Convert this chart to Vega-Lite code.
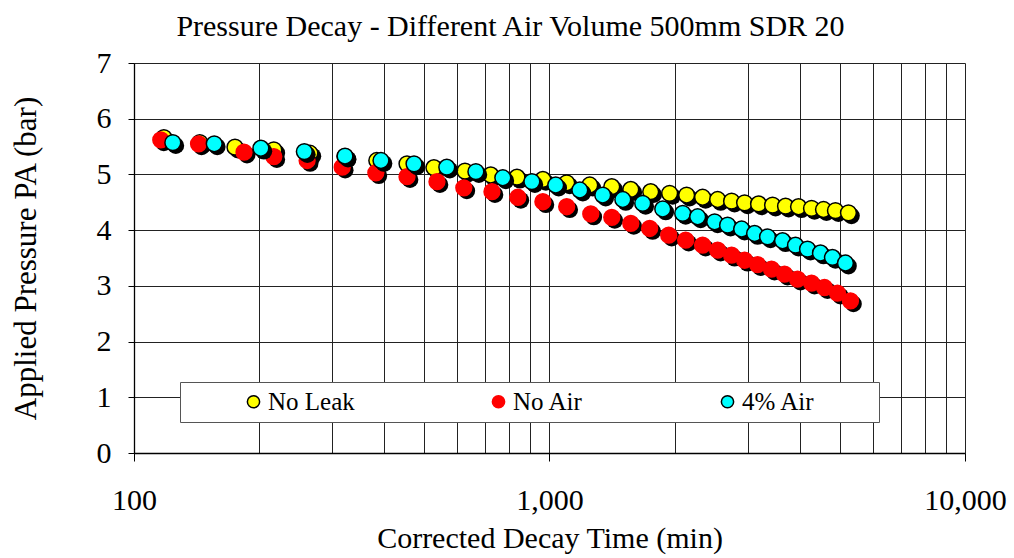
{
  "$schema": "https://vega.github.io/schema/vega-lite/v6.json",
  "width": 831,
  "height": 390,
  "autosize": "none",
  "padding": {"left": 134, "top": 63, "right": 49, "bottom": 105},
  "background": "white",
  "title": {"text": "Pressure Decay - Different Air Volume 500mm SDR 20", "font": "Liberation Serif", "fontSize": 30, "fontWeight": "normal", "anchor": "middle", "dx": -39, "offset": 6, "color": "black"},
  "config": {"view": {"stroke": null}, "font": "Liberation Serif",
    "legend": {"orient": "none", "legendX": 46, "legendY": 319, "direction": "horizontal", "columns": 3,
      "titleOrient": "left", "titleFontSize": 10, "titlePadding": 54,
      "strokeColor": "#555", "fillColor": "white", "padding": 7,
      "labelFont": "Liberation Serif", "labelFontSize": 25, "labelColor": "black", "labelOffset": 2, "labelLimit": 400,
      "symbolType": "circle", "symbolSize": 150, "symbolStrokeWidth": 1.5, "columnPadding": 131}},
  "data": {"values": [
    {"series": "No Leak", "time": 118, "pressure": 5.66},
    {"series": "No Leak", "time": 144, "pressure": 5.57},
    {"series": "No Leak", "time": 175, "pressure": 5.49},
    {"series": "No Leak", "time": 217, "pressure": 5.44},
    {"series": "No Leak", "time": 265, "pressure": 5.38},
    {"series": "No Leak", "time": 322, "pressure": 5.32},
    {"series": "No Leak", "time": 384, "pressure": 5.25},
    {"series": "No Leak", "time": 454, "pressure": 5.19},
    {"series": "No Leak", "time": 527, "pressure": 5.12},
    {"series": "No Leak", "time": 626, "pressure": 5.06},
    {"series": "No Leak", "time": 722, "pressure": 4.99},
    {"series": "No Leak", "time": 835, "pressure": 4.95},
    {"series": "No Leak", "time": 964, "pressure": 4.91},
    {"series": "No Leak", "time": 1100, "pressure": 4.85},
    {"series": "No Leak", "time": 1250, "pressure": 4.81},
    {"series": "No Leak", "time": 1412, "pressure": 4.78},
    {"series": "No Leak", "time": 1569, "pressure": 4.73},
    {"series": "No Leak", "time": 1752, "pressure": 4.69},
    {"series": "No Leak", "time": 1946, "pressure": 4.66},
    {"series": "No Leak", "time": 2138, "pressure": 4.63},
    {"series": "No Leak", "time": 2336, "pressure": 4.59},
    {"series": "No Leak", "time": 2539, "pressure": 4.55},
    {"series": "No Leak", "time": 2743, "pressure": 4.52},
    {"series": "No Leak", "time": 2948, "pressure": 4.49},
    {"series": "No Leak", "time": 3185, "pressure": 4.47},
    {"series": "No Leak", "time": 3442, "pressure": 4.45},
    {"series": "No Leak", "time": 3699, "pressure": 4.43},
    {"series": "No Leak", "time": 3975, "pressure": 4.42},
    {"series": "No Leak", "time": 4272, "pressure": 4.39},
    {"series": "No Leak", "time": 4565, "pressure": 4.37},
    {"series": "No Leak", "time": 4877, "pressure": 4.35},
    {"series": "No Leak", "time": 5242, "pressure": 4.31},
    {"series": "No Air", "time": 116, "pressure": 5.62},
    {"series": "No Air", "time": 143, "pressure": 5.55},
    {"series": "No Air", "time": 184, "pressure": 5.4},
    {"series": "No Air", "time": 217, "pressure": 5.32},
    {"series": "No Air", "time": 261, "pressure": 5.25},
    {"series": "No Air", "time": 317, "pressure": 5.13},
    {"series": "No Air", "time": 382, "pressure": 5.03},
    {"series": "No Air", "time": 454, "pressure": 4.96},
    {"series": "No Air", "time": 536, "pressure": 4.87},
    {"series": "No Air", "time": 622, "pressure": 4.76},
    {"series": "No Air", "time": 727, "pressure": 4.69},
    {"series": "No Air", "time": 839, "pressure": 4.59},
    {"series": "No Air", "time": 964, "pressure": 4.51},
    {"series": "No Air", "time": 1100, "pressure": 4.42},
    {"series": "No Air", "time": 1257, "pressure": 4.29},
    {"series": "No Air", "time": 1412, "pressure": 4.23},
    {"series": "No Air", "time": 1569, "pressure": 4.12},
    {"series": "No Air", "time": 1742, "pressure": 4.03},
    {"series": "No Air", "time": 1936, "pressure": 3.91},
    {"series": "No Air", "time": 2127, "pressure": 3.82},
    {"series": "No Air", "time": 2336, "pressure": 3.73},
    {"series": "No Air", "time": 2539, "pressure": 3.64},
    {"series": "No Air", "time": 2743, "pressure": 3.55},
    {"series": "No Air", "time": 2948, "pressure": 3.46},
    {"series": "No Air", "time": 3168, "pressure": 3.38},
    {"series": "No Air", "time": 3422, "pressure": 3.3},
    {"series": "No Air", "time": 3678, "pressure": 3.21},
    {"series": "No Air", "time": 3953, "pressure": 3.12},
    {"series": "No Air", "time": 4272, "pressure": 3.05},
    {"series": "No Air", "time": 4590, "pressure": 2.97},
    {"series": "No Air", "time": 4932, "pressure": 2.87},
    {"series": "No Air", "time": 5300, "pressure": 2.73},
    {"series": "4% Air", "time": 124, "pressure": 5.57},
    {"series": "4% Air", "time": 156, "pressure": 5.55},
    {"series": "4% Air", "time": 202, "pressure": 5.47},
    {"series": "4% Air", "time": 257, "pressure": 5.41},
    {"series": "4% Air", "time": 322, "pressure": 5.33},
    {"series": "4% Air", "time": 393, "pressure": 5.25},
    {"series": "4% Air", "time": 472, "pressure": 5.19},
    {"series": "4% Air", "time": 566, "pressure": 5.13},
    {"series": "4% Air", "time": 665, "pressure": 5.05},
    {"series": "4% Air", "time": 772, "pressure": 4.94},
    {"series": "4% Air", "time": 907, "pressure": 4.87},
    {"series": "4% Air", "time": 1035, "pressure": 4.81},
    {"series": "4% Air", "time": 1183, "pressure": 4.72},
    {"series": "4% Air", "time": 1343, "pressure": 4.63},
    {"series": "4% Air", "time": 1501, "pressure": 4.55},
    {"series": "4% Air", "time": 1676, "pressure": 4.48},
    {"series": "4% Air", "time": 1873, "pressure": 4.38},
    {"series": "4% Air", "time": 2092, "pressure": 4.3},
    {"series": "4% Air", "time": 2273, "pressure": 4.24},
    {"series": "4% Air", "time": 2497, "pressure": 4.15},
    {"series": "4% Air", "time": 2683, "pressure": 4.09},
    {"series": "4% Air", "time": 2900, "pressure": 4.02},
    {"series": "4% Air", "time": 3116, "pressure": 3.94},
    {"series": "4% Air", "time": 3348, "pressure": 3.88},
    {"series": "4% Air", "time": 3638, "pressure": 3.81},
    {"series": "4% Air", "time": 3909, "pressure": 3.73},
    {"series": "4% Air", "time": 4178, "pressure": 3.66},
    {"series": "4% Air", "time": 4489, "pressure": 3.59},
    {"series": "4% Air", "time": 4797, "pressure": 3.51},
    {"series": "4% Air", "time": 5156, "pressure": 3.41}
  ]},
  "encoding": {
    "x": {"field": "time", "type": "quantitative",
      "scale": {"type": "log", "domain": [100, 10000], "nice": false},
      "axis": {
        "title": "Corrected Decay Time (min)",
        "titleFont": "Liberation Serif", "titleFontSize": 30, "titleFontWeight": "normal", "titleColor": "black", "titlePadding": 8,
        "values": [100, 200, 300, 400, 500, 600, 700, 800, 900, 1000, 2000, 3000, 4000, 5000, 6000, 7000, 8000, 9000, 10000],
        "labelExpr": "(datum.value == 100 || datum.value == 1000 || datum.value == 10000) ? format(datum.value, ',') : ''",
        "labelFont": "Liberation Serif", "labelFontSize": 30, "labelColor": "black", "labelPadding": 24, "labelOverlap": false, "labelFlush": false,
        "tickSize": 8, "tickColor": "black",
        "tickOpacity": {"condition": {"test": "datum.value == 100 || datum.value == 1000 || datum.value == 10000", "value": 1}, "value": 0},
        "grid": true, "gridColor": "#222", "gridWidth": 1,
        "domainColor": "black", "domainWidth": 1.3
      }},
    "y": {"field": "pressure", "type": "quantitative",
      "scale": {"domain": [0, 7], "nice": false, "zero": true},
      "axis": {
        "title": "Applied Pressure PA (bar)",
        "titleFont": "Liberation Serif", "titleFontSize": 31, "titleFontWeight": "normal", "titleColor": "black", "titlePadding": 54,
        "values": [0, 1, 2, 3, 4, 5, 6, 7],
        "labelFont": "Liberation Serif", "labelFontSize": 30, "labelColor": "black", "labelPadding": 17,
        "tickSize": 6, "tickColor": "black",
        "grid": true, "gridColor": "#222", "gridWidth": 1,
        "domainColor": "black", "domainWidth": 1.3
      }},
    "fill": {"field": "series", "type": "nominal", "scale": {"domain": ["No Leak", "No Air", "4% Air"], "range": ["#FFFF00", "#FF0000", "#00FFFF"]},
      "legend": {"title": "\u00a0", "labelExpr": "datum.value == '4% Air' ? '4% Air\u00a0\u00a0\u00a0\u00a0\u00a0\u00a0\u00a0\u00a0\u00a0\u200b' : datum.label"}},
    "stroke": {"field": "series", "type": "nominal", "scale": {"domain": ["No Leak", "No Air", "4% Air"], "range": ["black", "#FF0000", "black"]},
      "legend": {"title": "\u00a0", "labelExpr": "datum.value == '4% Air' ? '4% Air\u00a0\u00a0\u00a0\u00a0\u00a0\u00a0\u00a0\u00a0\u00a0\u200b' : datum.label"}}
  },
  "layer": [
    {"transform": [{"filter": "datum.series == 'No Leak'"}],
     "mark": {"type": "point", "shape": "circle", "filled": true, "strokeWidth": 0, "size": 280, "opacity": 1, "xOffset": 3, "yOffset": 3},
     "encoding": {"fill": {"value": "black"}, "stroke": {"value": "black"}}},
    {"transform": [{"filter": "datum.series == 'No Leak'"}],
     "mark": {"type": "point", "shape": "circle", "filled": true, "size": 250, "strokeWidth": 1.5, "opacity": 1}},
    {"transform": [{"filter": "datum.series == 'No Air'"}],
     "mark": {"type": "point", "shape": "circle", "filled": true, "strokeWidth": 0, "size": 280, "opacity": 1, "xOffset": 3, "yOffset": 3},
     "encoding": {"fill": {"value": "black"}, "stroke": {"value": "black"}}},
    {"transform": [{"filter": "datum.series == 'No Air'"}],
     "mark": {"type": "point", "shape": "circle", "filled": true, "size": 250, "strokeWidth": 1.5, "opacity": 1}},
    {"transform": [{"filter": "datum.series == '4% Air'"}],
     "mark": {"type": "point", "shape": "circle", "filled": true, "strokeWidth": 0, "size": 280, "opacity": 1, "xOffset": 3, "yOffset": 3},
     "encoding": {"fill": {"value": "black"}, "stroke": {"value": "black"}}},
    {"transform": [{"filter": "datum.series == '4% Air'"}],
     "mark": {"type": "point", "shape": "circle", "filled": true, "size": 250, "strokeWidth": 1.5, "opacity": 1}}
  ]
}
